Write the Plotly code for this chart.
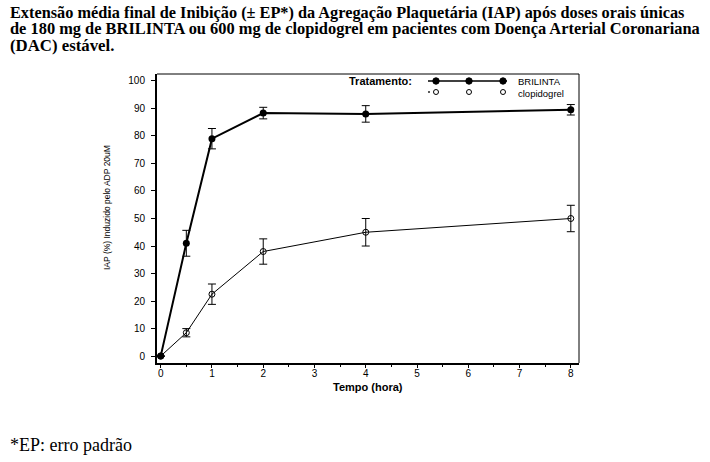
import plotly.graph_objects as go

tempo = [0, 0.5, 1, 2, 4, 8]
brilinta = [0, 41, 79, 88.3, 88, 89.5]
brilinta_ep = [0, 4.7, 3.7, 2.1, 3.0, 1.9]
clopidogrel = [0, 8.5, 22.5, 38, 45, 50]
clopidogrel_ep = [0, 1.5, 3.7, 4.6, 5.0, 4.8]
x_ticks = [0, 1, 2, 3, 4, 5, 6, 7, 8]
y_ticks = [0, 10, 20, 30, 40, 50, 60, 70, 80, 90, 100]

title_lines = [
    "Extensão média final de Inibição (± EP*) da Agregação Plaquetária (IAP) após doses orais únicas",
    "de 180 mg de BRILINTA ou 600 mg de clopidogrel em pacientes com Doença Arterial Coronariana",
    "(DAC) estável.",
]

W, H = 710, 462
PL, PR, PT, PB = 157, 579, 74, 363  # plot area in pixels
pw, ph = PR - PL, PB - PT

def px(x):
    return (x - PL) / pw

def py(y):
    return (PB - y) / ph

fig = go.Figure()
fig.add_trace(go.Scatter(
    x=tempo, y=clopidogrel, mode="lines+markers", name="clopidogrel",
    line=dict(color="black", width=1),
    marker=dict(symbol="circle-open", size=6, color="black", line=dict(width=1)),
    error_y=dict(type="data", array=clopidogrel_ep, color="black", thickness=1, width=4),
))
fig.add_trace(go.Scatter(
    x=tempo, y=brilinta, mode="lines+markers", name="BRILINTA",
    line=dict(color="black", width=2),
    marker=dict(symbol="circle", size=7, color="black"),
    error_y=dict(type="data", array=brilinta_ep, color="black", thickness=1, width=4),
))

axfont = dict(family="Liberation Sans, Arial", size=10, color="black")
fig.update_xaxes(range=[-0.072, 8.16], tickvals=x_ticks, ticks="outside", ticklen=3,
                 tickwidth=1, tickcolor="black", showline=True, linecolor="black",
                 linewidth=2, showgrid=False, zeroline=False, tickfont=axfont,
                 ticklabelstandoff=-3,
                 minor=dict(dtick=0.5, tick0=0, ticks="outside", ticklen=2, tickcolor="black"))
fig.update_yaxes(range=[-2.5, 102.5], tickvals=y_ticks, ticks="outside", ticklen=4,
                 tickwidth=1, tickcolor="black", showline=True, linecolor="black",
                 linewidth=2, showgrid=False, zeroline=False, tickfont=axfont, ticklabelstandoff=4)

LEG_Y1, LEG_Y2 = 81, 92
shapes = [
    dict(type="line", xref="paper", yref="paper", x0=0, x1=1, y0=1, y1=1,
         line=dict(color="black", width=1)),
    dict(type="line", xref="paper", yref="paper", x0=1, x1=1, y0=0, y1=1,
         line=dict(color="black", width=1)),
    dict(type="line", xref="paper", yref="paper", x0=px(428), x1=px(507), y0=py(LEG_Y1), y1=py(LEG_Y1),
         line=dict(color="black", width=1.5)),
    dict(type="circle", xref="paper", yref="paper", xsizemode="pixel", ysizemode="pixel",
         xanchor=px(429), yanchor=py(LEG_Y2), x0=-0.7, x1=0.7, y0=-0.7, y1=0.7,
         fillcolor="black", line=dict(color="black", width=0.5)),
]
for mx in [436, 469, 503]:
    shapes.append(dict(type="circle", xref="paper", yref="paper", xsizemode="pixel",
                       ysizemode="pixel", xanchor=px(mx), yanchor=py(LEG_Y1),
                       x0=-3.2, x1=3.2, y0=-3.2, y1=3.2, fillcolor="black",
                       line=dict(color="black", width=1)))
    shapes.append(dict(type="circle", xref="paper", yref="paper", xsizemode="pixel",
                       ysizemode="pixel", xanchor=px(mx), yanchor=py(LEG_Y2),
                       x0=-2.5, x1=2.5, y0=-2.5, y1=2.5, fillcolor="white",
                       line=dict(color="black", width=1)))

annotations = []
title_sizes = [16.3, 16.4, 16.8]
for i, line in enumerate(title_lines):
    annotations.append(dict(text="<b>" + line + "</b>", xref="paper", yref="paper",
                            x=px(8), y=py(12 + 16.8 * i), xanchor="left", yanchor="middle",
                            showarrow=False,
                            font=dict(family="Liberation Serif, Times New Roman",
                                      size=title_sizes[i], color="black")))
annotations.append(dict(text="*EP: erro padrão", xref="paper", yref="paper",
                        x=px(8), y=py(445), xanchor="left", yanchor="middle",
                        showarrow=False,
                        font=dict(family="Liberation Serif, Times New Roman", size=18, color="black")))
annotations.append(dict(text="<b>Tempo (hora)</b>", xref="paper", yref="paper",
                        x=0.5, y=py(387), xanchor="center", yanchor="middle", showarrow=False,
                        font=dict(family="Liberation Sans, Arial", size=11, color="black")))
annotations.append(dict(text="IAP (%) Induzido pelo ADP 20uM", xref="paper", yref="paper",
                        x=px(107), y=py(208), xanchor="center", yanchor="middle", textangle=-90,
                        showarrow=False, font=dict(family="Liberation Sans, Arial", size=8.5, color="black")))
annotations.append(dict(text="<b>Tratamento:</b>", xref="paper", yref="paper",
                        x=px(414), y=py(LEG_Y1), xanchor="right", yanchor="middle", showarrow=False,
                        font=dict(family="Liberation Sans, Arial", size=11, color="black")))
annotations.append(dict(text="BRILINTA", xref="paper", yref="paper",
                        x=px(516), y=py(LEG_Y1), xanchor="left", yanchor="middle", showarrow=False,
                        font=dict(family="Liberation Sans, Arial", size=9.5, color="black")))
annotations.append(dict(text="clopidogrel", xref="paper", yref="paper",
                        x=px(516), y=py(LEG_Y2 + 1), xanchor="left", yanchor="middle", showarrow=False,
                        font=dict(family="Liberation Sans, Arial", size=9.5, color="black")))

fig.update_layout(width=W, height=H,
                  margin=dict(l=PL, r=W - PR, t=PT, b=H - PB, pad=0),
                  paper_bgcolor="white", plot_bgcolor="white", showlegend=False,
                  shapes=shapes, annotations=annotations)

fig.write_html("out.html", config={"displayModeBar": False},
               post_script="document.body.style.margin='0';document.body.style.padding='0';")
